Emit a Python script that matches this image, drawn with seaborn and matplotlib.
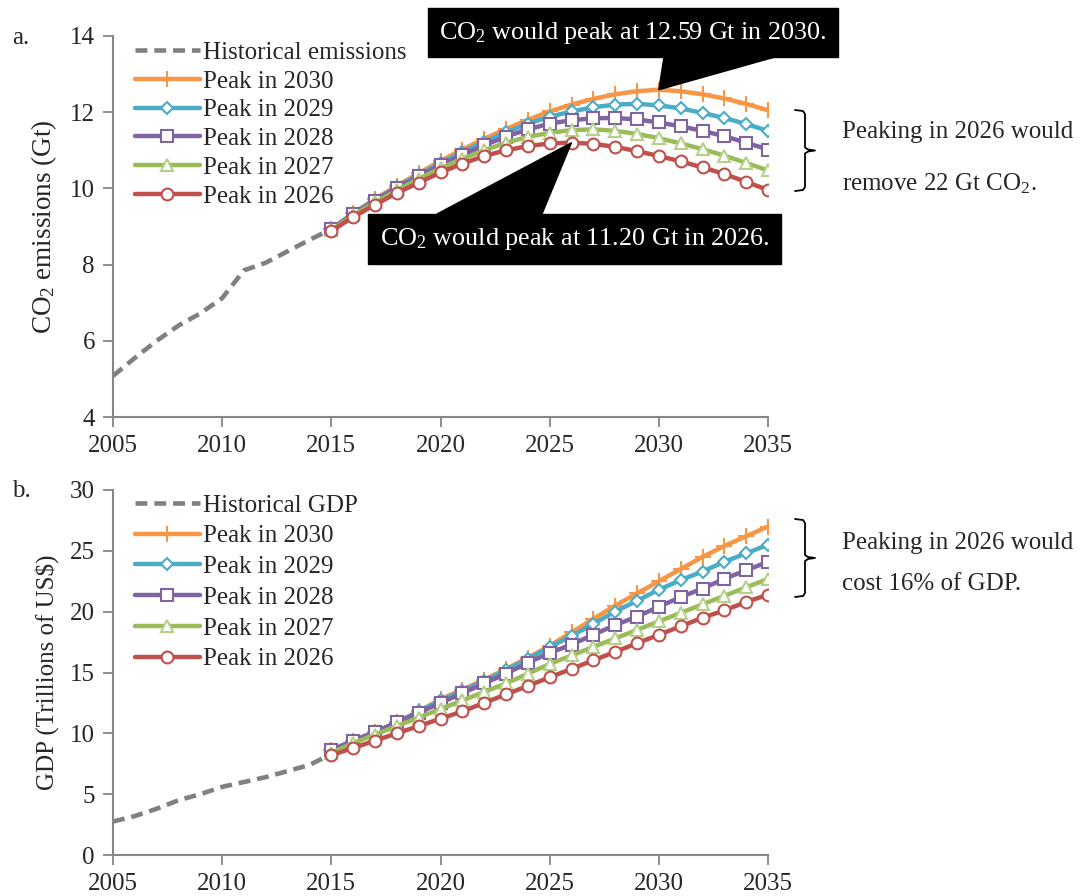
import matplotlib
matplotlib.use("Agg")
import pandas as pd
import seaborn as sns
from matplotlib import pyplot as plt
from matplotlib.patches import Polygon, Rectangle
from matplotlib.lines import Line2D

# ---- data ----
hist_years = list(range(2005, 2016))
hist_co2 = [5.08, 5.55, 6.0, 6.4, 6.72, 7.12, 7.85, 8.05, 8.35, 8.65, 8.93]
hist_gdp = [2.75, 3.2, 3.8, 4.5, 5.0, 5.6, 6.0, 6.4, 6.9, 7.4, 8.3]

proj_years = list(range(2015, 2036))
scenarios = ["Peak in 2030", "Peak in 2029", "Peak in 2028", "Peak in 2027", "Peak in 2026"]

co2_2030 = [8.93, 9.35, 9.72, 10.07, 10.4, 10.72, 11.02, 11.3, 11.56, 11.8, 12.02,
            12.2, 12.35, 12.47, 12.55, 12.59, 12.55, 12.47, 12.36, 12.22, 12.05]
co2_2029 = [8.93, 9.34, 9.7, 10.04, 10.36, 10.66, 10.95, 11.22, 11.47, 11.7, 11.88,
            12.02, 12.13, 12.2, 12.22, 12.18, 12.1, 11.98, 11.85, 11.69, 11.51]
co2_2028 = [8.93, 9.33, 9.68, 10.01, 10.32, 10.61, 10.88, 11.13, 11.36, 11.55, 11.7,
            11.79, 11.84, 11.85, 11.81, 11.73, 11.63, 11.51, 11.37, 11.2, 11.02]
co2_2027 = [8.9, 9.3, 9.63, 9.95, 10.25, 10.53, 10.78, 11.0, 11.2, 11.35, 11.46,
            11.53, 11.55, 11.51, 11.43, 11.32, 11.18, 11.03, 10.86, 10.67, 10.47]
co2_2026 = [8.88, 9.25, 9.57, 9.88, 10.15, 10.42, 10.65, 10.85, 11.0, 11.11, 11.18,
            11.2, 11.17, 11.09, 10.98, 10.85, 10.71, 10.55, 10.38, 10.17, 9.96]

gdp_2030 = [8.6, 9.4, 10.1, 10.9, 11.8, 12.8, 13.6, 14.4, 15.3, 16.2, 17.2,
            18.3, 19.4, 20.5, 21.5, 22.5, 23.5, 24.5, 25.4, 26.2, 27.0]
gdp_2029 = [8.6, 9.4, 10.1, 10.9, 11.8, 12.7, 13.5, 14.3, 15.2, 16.1, 17.1,
            18.0, 19.0, 20.0, 20.9, 21.8, 22.6, 23.3, 24.1, 24.8, 25.5]
gdp_2028 = [8.6, 9.4, 10.1, 10.9, 11.7, 12.5, 13.3, 14.1, 14.9, 15.8, 16.6,
            17.3, 18.1, 18.9, 19.6, 20.4, 21.2, 21.9, 22.7, 23.4, 24.1]
gdp_2027 = [8.4, 9.2, 9.9, 10.6, 11.3, 12.0, 12.7, 13.4, 14.1, 14.9, 15.7,
            16.4, 17.1, 17.8, 18.5, 19.2, 19.9, 20.6, 21.3, 22.0, 22.7]
gdp_2026 = [8.2, 8.8, 9.4, 10.0, 10.6, 11.2, 11.8, 12.5, 13.2, 13.9, 14.6,
            15.3, 16.0, 16.7, 17.4, 18.1, 18.8, 19.5, 20.1, 20.8, 21.4]

co2_series = [co2_2030, co2_2029, co2_2028, co2_2027, co2_2026]
gdp_series = [gdp_2030, gdp_2029, gdp_2028, gdp_2027, gdp_2026]

colors = ["#F79646", "#4BACC6", "#8064A2", "#9BBB59", "#C0504D"]
edge_colors = ["#F79646", "#4BACC6", "#8064A2", "#B5D08A", "#C0504D"]
markers = ["+", "D", "s", "^", "o"]
msizes = [11, 6.5, 8.5, 8.5, 8.5]

sns.set_style("ticks")
plt.rcParams["font.family"] = ["Liberation Serif", "DejaVu Serif"]
plt.rcParams["mathtext.fontset"] = "custom"
plt.rcParams["mathtext.rm"] = "Liberation Serif"
plt.rcParams["mathtext.it"] = "Liberation Serif:italic"
FS = 18
W, H = 1080, 896


def fx(px):
    return px / W


def fy(py):
    return 1 - py / H


fig = plt.figure(figsize=(10.8, 8.96), dpi=100)
ax1 = fig.add_axes([fx(113), fy(417), fx(768 - 113), (417 - 36) / H])
ax2 = fig.add_axes([fx(113), fy(855), fx(768 - 113), (855 - 490) / H])


def draw_panel(ax, hist, hist_label, series, ylim, yticks, spacing, anchor):
    df_hist = pd.DataFrame({"year": hist_years, "value": hist})
    sns.lineplot(data=df_hist, x="year", y="value", ax=ax, color="#808080", lw=3.3,
                 linestyle=(0, (2.6, 1.5)), label=hist_label)
    for lab, vals, c, ec, m, ms in zip(scenarios, series, colors, edge_colors, markers, msizes):
        df = pd.DataFrame({"year": proj_years, "value": vals})
        sns.lineplot(data=df, x="year", y="value", ax=ax, color=c, lw=3.2, marker=m,
                     markersize=ms, markerfacecolor="white", markeredgecolor=ec,
                     markeredgewidth=1.5, label=lab)
    ax.set_xlim(2005, 2035)
    ax.set_ylim(*ylim)
    ax.set_xticks(range(2005, 2036, 5))
    ax.set_yticks(yticks)
    ax.set_xlabel("")
    sns.despine(ax=ax)
    for sp in ["left", "bottom"]:
        ax.spines[sp].set_color("#868686")
        ax.spines[sp].set_linewidth(1.5)
    ax.tick_params(direction="out", length=7, width=1.3, color="#868686",
                   labelsize=FS, pad=6)
    leg = ax.legend(loc="upper left", bbox_to_anchor=anchor, frameon=False,
                    fontsize=FS, handlelength=2.6, handletextpad=0.15,
                    labelspacing=spacing, borderaxespad=0.2)
    return leg


draw_panel(ax1, hist_co2, "Historical emissions", co2_series, (4, 14), range(4, 15, 2),
           0.25, (0.01, 1.025))
draw_panel(ax2, hist_gdp, "Historical GDP", gdp_series, (0, 30), range(0, 31, 5),
           0.33, (0.01, 1.03))
ax1.set_ylabel("CO$_2$ emissions (Gt)", fontsize=19.5)
ax2.set_ylabel("GDP (Trillions of US\\$)", fontsize=FS)
ax1.yaxis.set_label_coords(-0.082, 0.5)
ax2.yaxis.set_label_coords(-0.082, 0.5)

fig.text(fx(12), fy(38), "a.", fontsize=FS, va="center", ha="left")
fig.text(fx(12), fy(491), "b.", fontsize=FS, va="center", ha="left")


def callout(ax, tip, box, base, text):
    x0, y0, x1, y1 = box
    fig.add_artist(Rectangle((fx(x0), fy(y1)), fx(x1 - x0), (y1 - y0) / H,
                             transform=fig.transFigure, fc="black", ec="black"))
    tip_fig = fig.transFigure.inverted().transform(ax.transData.transform(tip))
    by = y0 if base[2] == "top" else y1
    poly = Polygon([[fx(base[0]), fy(by)], [fx(base[1]), fy(by)], tip_fig],
                   closed=True, transform=fig.transFigure, fc="black", ec="black")
    fig.add_artist(poly)
    fig.text(fx((x0 + x1) / 2), fy((y0 + y1) / 2), text, color="white",
             fontsize=18.8, ha="center", va="center")


callout(ax1, (2030, 12.59), (428, 8, 838, 57), (664, 775, "bottom"),
        "CO$_2$ would peak at 12.59 Gt in 2030.")
callout(ax1, (2026, 11.20), (368, 214, 781, 264), (437, 542, "top"),
        "CO$_2$ would peak at 11.20 Gt in 2026.")


def brace(y_top, y_bot):
    ym = (y_top + y_bot) / 2
    xs = [795, 803, 805, 805, 808, 815, 808, 805, 805, 803, 795]
    ys = [y_top, y_top + 1, y_top + 4, ym - 3, ym - 1, ym, ym + 1, ym + 3, y_bot - 4, y_bot - 1, y_bot]
    fig.add_artist(Line2D([fx(v) for v in xs], [fy(v) for v in ys],
                          transform=fig.transFigure, color="black", lw=1.3))


brace(110, 191)
brace(519, 597)
fig.text(fx(842), fy(132), "Peaking in 2026 would", fontsize=FS, va="center")
fig.text(fx(842), fy(184), "remove 22 Gt CO$_2$.", fontsize=FS, va="center")
fig.text(fx(842), fy(543), "Peaking in 2026 would", fontsize=FS, va="center")
fig.text(fx(842), fy(584), "cost 16% of GDP.", fontsize=FS, va="center")

fig.savefig("out.png", dpi=100, facecolor="white")
